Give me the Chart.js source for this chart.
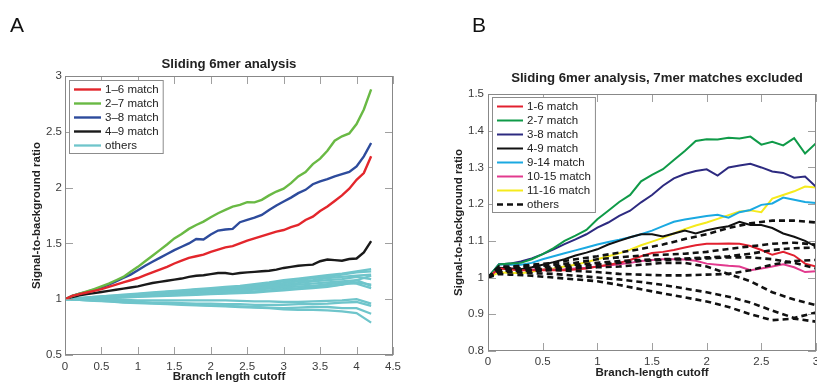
<!DOCTYPE html>
<html>
<head>
<meta charset="utf-8">
<script src="https://cdn.jsdelivr.net/npm/chart.js@4.4.1/dist/chart.umd.min.js"></script>
<style>
  body { margin: 0; background: #fff; width: 817px; height: 383px; overflow: hidden; position: relative; }
  .panel { position: absolute; top: 0; height: 383px; }
  #wrapA { left: 0; width: 410px; }
  #wrapB { left: 410px; width: 407px; }
</style>
</head>
<body>
<div class="panel" id="wrapA"><canvas id="chartA"></canvas></div>
<div class="panel" id="wrapB"><canvas id="chartB"></canvas></div>
<script>
// ---- Panel A data: Sliding 6mer analysis ----
const xA = [0,0.1,0.2,0.3,0.4,0.5,0.6,0.7,0.8,0.9,1,1.1,1.2,1.3,1.4,1.5,1.6,1.7,1.8,1.9,2,2.1,2.2,2.3,2.4,2.5,2.6,2.7,2.8,2.9,3,3.1,3.2,3.3,3.4,3.5,3.6,3.7,3.8,3.9,4,4.1,4.2];
const redA   = [1.00,1.03,1.045,1.06,1.075,1.09,1.11,1.13,1.15,1.17,1.19,1.215,1.24,1.265,1.29,1.32,1.345,1.37,1.385,1.40,1.425,1.445,1.465,1.475,1.50,1.525,1.545,1.565,1.585,1.605,1.62,1.645,1.665,1.71,1.74,1.79,1.83,1.88,1.93,1.99,2.07,2.13,2.28];
const greenA = [1.00,1.03,1.05,1.07,1.09,1.115,1.14,1.17,1.20,1.245,1.29,1.34,1.39,1.44,1.49,1.545,1.585,1.63,1.665,1.695,1.735,1.77,1.80,1.83,1.845,1.87,1.868,1.89,1.93,1.965,1.99,2.04,2.10,2.14,2.21,2.26,2.33,2.42,2.46,2.485,2.57,2.70,2.88];
const blueA  = [1.00,1.03,1.05,1.065,1.085,1.105,1.13,1.16,1.19,1.22,1.26,1.30,1.335,1.37,1.405,1.44,1.47,1.50,1.54,1.535,1.58,1.615,1.625,1.63,1.69,1.71,1.73,1.755,1.80,1.84,1.875,1.91,1.95,1.98,2.03,2.055,2.075,2.10,2.12,2.14,2.19,2.28,2.40];
const blackA = [1.00,1.02,1.035,1.045,1.055,1.065,1.075,1.085,1.095,1.105,1.115,1.13,1.145,1.155,1.165,1.175,1.185,1.20,1.21,1.215,1.225,1.235,1.235,1.225,1.235,1.24,1.245,1.25,1.255,1.265,1.28,1.29,1.30,1.305,1.31,1.34,1.355,1.35,1.345,1.36,1.365,1.42,1.52];
// "others" are sampled more coarsely
const xA2 = [0,0.2,0.4,0.6,0.8,1,1.2,1.4,1.6,1.8,2,2.2,2.4,2.6,2.8,3,3.2,3.4,3.6,3.8,4,4.2];
const othersA = [
  [1.00,1.01,1.02,1.03,1.04,1.05,1.06,1.07,1.08,1.09,1.10,1.11,1.12,1.135,1.15,1.17,1.185,1.20,1.215,1.23,1.25,1.27],
  [1.00,1.01,1.02,1.03,1.035,1.045,1.055,1.065,1.075,1.085,1.09,1.10,1.11,1.125,1.14,1.16,1.17,1.19,1.20,1.22,1.24,1.25],
  [1.00,1.01,1.015,1.025,1.035,1.04,1.05,1.06,1.07,1.075,1.085,1.09,1.10,1.115,1.13,1.145,1.16,1.17,1.19,1.20,1.21,1.22],
  [1.00,1.005,1.015,1.02,1.03,1.035,1.045,1.05,1.06,1.07,1.075,1.085,1.095,1.105,1.12,1.13,1.145,1.16,1.17,1.18,1.20,1.18],
  [1.00,1.005,1.01,1.02,1.025,1.03,1.04,1.045,1.05,1.06,1.065,1.075,1.085,1.095,1.105,1.12,1.13,1.14,1.15,1.16,1.17,1.12],
  [1.00,1.005,1.01,1.015,1.02,1.03,1.035,1.04,1.045,1.05,1.06,1.065,1.075,1.085,1.095,1.105,1.115,1.12,1.135,1.145,1.14,1.10],
  [1.00,1.005,1.01,1.015,1.02,1.025,1.03,1.035,1.04,1.045,1.05,1.055,1.065,1.07,1.08,1.09,1.10,1.11,1.12,1.13,1.15,1.13],
  [1.00,1.00,1.005,1.01,1.015,1.02,1.025,1.03,1.035,1.04,1.045,1.05,1.055,1.06,1.07,1.08,1.09,1.10,1.11,1.13,1.17,1.21],
  [1.00,0.998,0.995,0.995,0.993,0.99,0.99,0.99,0.99,0.99,0.99,0.99,0.985,0.98,0.98,0.975,0.975,0.98,0.985,0.99,1.00,0.96],
  [1.00,0.995,0.99,0.985,0.98,0.975,0.97,0.97,0.965,0.96,0.96,0.955,0.955,0.95,0.95,0.95,0.955,0.955,0.96,0.97,0.975,0.94],
  [1.00,0.995,0.99,0.98,0.975,0.97,0.965,0.96,0.955,0.95,0.945,0.94,0.935,0.93,0.925,0.92,0.925,0.93,0.93,0.92,0.92,0.87],
  [1.00,0.995,0.985,0.98,0.97,0.965,0.96,0.955,0.95,0.945,0.94,0.935,0.93,0.925,0.92,0.91,0.905,0.905,0.90,0.89,0.875,0.79]
];
const labelsA = ['1\u20136 match', '2\u20137 match', '3\u20138 match', '4\u20139 match', 'others'];
const xTicksA = [0, 0.5, 1, 1.5, 2, 2.5, 3, 3.5, 4, 4.5];
const xTickLabelsA = ['0', '0.5', '1', '1.5', '2', '2.5', '3', '3.5', '4', '4.5'];
const yTicksA = [0.5, 1, 1.5, 2, 2.5, 3];
const yTickLabelsA = ['0.5', '1', '1.5', '2', '2.5', '3'];

// ---- Panel B data: 7mer matches excluded ----
const xB = [0,0.1,0.2,0.3,0.4,0.5,0.6,0.7,0.8,0.9,1,1.1,1.2,1.3,1.4,1.5,1.6,1.7,1.8,1.9,2,2.1,2.2,2.3,2.4,2.5,2.6,2.7,2.8,2.9,3];
const redB     = [1.00,1.025,1.022,1.02,1.02,1.02,1.02,1.02,1.022,1.025,1.03,1.035,1.04,1.048,1.058,1.067,1.07,1.075,1.082,1.088,1.092,1.092,1.093,1.092,1.086,1.075,1.062,1.07,1.06,1.038,1.03];
const greenB   = [1.00,1.036,1.038,1.04,1.05,1.064,1.08,1.10,1.114,1.13,1.159,1.182,1.206,1.225,1.262,1.28,1.295,1.32,1.345,1.372,1.377,1.376,1.381,1.379,1.384,1.362,1.37,1.36,1.38,1.338,1.366];
const navyB    = [1.00,1.036,1.038,1.044,1.052,1.064,1.077,1.091,1.104,1.118,1.136,1.15,1.168,1.182,1.205,1.225,1.25,1.27,1.282,1.29,1.295,1.278,1.30,1.305,1.31,1.30,1.289,1.285,1.272,1.275,1.247];
const blackB   = [1.00,1.027,1.025,1.023,1.028,1.035,1.042,1.05,1.06,1.068,1.077,1.09,1.10,1.11,1.118,1.118,1.112,1.12,1.128,1.12,1.129,1.135,1.14,1.152,1.143,1.143,1.135,1.12,1.111,1.10,1.084];
const cyanB    = [1.00,1.036,1.035,1.035,1.04,1.05,1.058,1.066,1.074,1.082,1.09,1.097,1.103,1.11,1.118,1.128,1.14,1.152,1.158,1.163,1.168,1.171,1.163,1.178,1.184,1.198,1.202,1.218,1.212,1.206,1.203];
const magentaB = [1.00,1.025,1.025,1.023,1.022,1.022,1.022,1.023,1.025,1.027,1.03,1.033,1.036,1.04,1.045,1.048,1.05,1.05,1.049,1.046,1.038,1.035,1.032,1.03,1.02,1.025,1.03,1.036,1.028,1.015,1.017];
const yellowB  = [1.00,1.014,1.013,1.012,1.016,1.022,1.025,1.03,1.035,1.042,1.05,1.058,1.066,1.076,1.088,1.098,1.108,1.12,1.132,1.142,1.15,1.16,1.17,1.18,1.183,1.178,1.215,1.225,1.235,1.248,1.245];
const xB2 = [0,0.1,0.2,0.4,0.6,0.8,1,1.2,1.4,1.6,1.8,2,2.2,2.4,2.6,2.8,3];
const othersB = [
  [1.00,1.03,1.03,1.035,1.04,1.05,1.058,1.068,1.078,1.09,1.105,1.118,1.135,1.148,1.155,1.155,1.15],
  [1.00,1.03,1.028,1.03,1.035,1.04,1.05,1.055,1.06,1.062,1.065,1.07,1.078,1.085,1.092,1.095,1.09],
  [1.00,1.025,1.025,1.025,1.03,1.035,1.04,1.045,1.048,1.05,1.052,1.055,1.058,1.065,1.075,1.08,1.082],
  [1.00,1.02,1.02,1.022,1.025,1.03,1.035,1.04,1.045,1.048,1.05,1.052,1.055,1.055,1.05,1.04,1.025],
  [1.00,1.02,1.018,1.018,1.02,1.018,1.015,1.01,1.008,1.006,1.006,1.008,1.01,1.02,1.035,1.045,1.048],
  [1.00,1.015,1.015,1.012,1.01,1.005,1.0,0.995,0.988,0.98,0.97,0.96,0.948,0.932,0.91,0.89,0.905],
  [1.00,1.01,1.008,1.005,1.0,0.995,0.99,0.98,0.968,0.957,0.946,0.935,0.92,0.9,0.884,0.888,0.88],
  [1.00,1.02,1.02,1.02,1.022,1.025,1.028,1.03,1.035,1.04,1.04,1.03,1.01,0.99,0.96,0.94,0.925]
];
const labelsB = ['1-6 match', '2-7 match', '3-8 match', '4-9 match', '9-14 match', '10-15 match', '11-16 match', 'others'];
const xTicksB = [0, 0.5, 1, 1.5, 2, 2.5, 3];
const xTickLabelsB = ['0', '0.5', '1', '1.5', '2', '2.5', '3'];
const yTicksB = [0.8, 0.9, 1, 1.1, 1.2, 1.3, 1.4, 1.5];
const yTickLabelsB = ['0.8', '0.9', '1', '1.1', '1.2', '1.3', '1.4', '1.5'];

const FONT = '"Liberation Sans", Arial, Helvetica, sans-serif';
Chart.defaults.font.family = FONT;

function pts(xs, ys) {
  return xs.map((x, i) => ({ x: x, y: ys[i] }));
}

function solid(label, xs, ys, color, width) {
  return { label: label, data: pts(xs, ys), borderColor: color, borderWidth: width,
           pointRadius: 0, tension: 0, order: 1 };
}

// MATLAB-like frame, inward ticks and boxed legend
const matlabAxes = {
  id: 'matlabAxes',
  afterDatasetsDraw(chart, args, opts) {
    const { ctx, chartArea: a, scales: { x, y } } = chart;
    ctx.save();
    ctx.strokeStyle = '#a0a0a0';
    ctx.lineWidth = 1;
    ctx.beginPath();
    x.ticks.forEach(t => {
      const px = Math.round(x.getPixelForValue(t.value)) + 0.5;
      ctx.moveTo(px, a.bottom); ctx.lineTo(px, a.bottom - 8);
      ctx.moveTo(px, a.top); ctx.lineTo(px, a.top + 8);
    });
    y.ticks.forEach(t => {
      const py = Math.round(y.getPixelForValue(t.value)) + 0.5;
      ctx.moveTo(a.left, py); ctx.lineTo(a.left + 8, py);
      ctx.moveTo(a.right, py); ctx.lineTo(a.right - 8, py);
    });
    ctx.stroke();
    ctx.strokeStyle = '#888';
    ctx.strokeRect(a.left + 0.5, a.top + 0.5, a.width - 1, a.height - 1);

    // legend
    const items = chart.data.datasets.filter(d => !d.hideInLegend);
    ctx.font = '11.5px ' + FONT;
    const textW = Math.max(...items.map(d => ctx.measureText(d.label).width));
    const bx = a.left + opts.legendDx, by = a.top + opts.legendDy;
    const bw = 5 + opts.sampleLen + 4 + textW + 4;
    const bh = 14 * items.length + 3;
    ctx.fillStyle = '#fff';
    ctx.fillRect(bx + 0.5, by + 0.5, bw, bh);
    ctx.strokeStyle = '#8c8c8c';
    ctx.strokeRect(bx + 0.5, by + 0.5, bw, bh);
    items.forEach((d, i) => {
      const cy = by + 9.5 + 14 * i;
      ctx.strokeStyle = d.borderColor;
      ctx.lineWidth = d.borderWidth;
      ctx.setLineDash(d.borderDash || []);
      ctx.beginPath();
      ctx.moveTo(bx + 5, cy);
      ctx.lineTo(bx + 5 + opts.sampleLen, cy);
      ctx.stroke();
      ctx.setLineDash([]);
      ctx.fillStyle = '#222';
      ctx.textBaseline = 'middle';
      ctx.textAlign = 'left';
      ctx.fillText(d.label, bx + 9 + opts.sampleLen, cy + 0.5);
    });
    ctx.restore();
  },
  afterDraw(chart, args, opts) {
    const { ctx, chartArea: a } = chart;
    ctx.save();
    ctx.fillStyle = '#111';
    ctx.textBaseline = 'alphabetic';
    ctx.textAlign = 'left';
    ctx.font = '21px ' + FONT;
    ctx.fillText(opts.letter, opts.letterX, 32);
    ctx.textAlign = 'center';
    ctx.font = 'bold 13.2px ' + FONT;
    ctx.fillStyle = '#222';
    ctx.fillText(opts.title, (a.left + a.right) / 2 + opts.titleDx, opts.titleY);
    ctx.restore();
  }
};

function makeOptions(c) {
  const noPad = s => { s.paddingLeft = 0; s.paddingRight = 0; s.paddingTop = 0; s.paddingBottom = 0; };
  return {
    responsive: true,
    maintainAspectRatio: false,
    animation: false,
    devicePixelRatio: 1,
    layout: { padding: c.padding },
    plugins: {
      legend: { display: false },
      tooltip: { enabled: false },
      matlabAxes: c.panel
    },
    scales: {
      x: {
        type: 'linear', min: c.xTicks[0], max: c.xTicks[c.xTicks.length - 1],
        afterBuildTicks: s => { s.ticks = c.xTicks.map(v => ({ value: v })); },
        afterFit: s => { s.height = c.xAxisH; noPad(s); },
        grid: { display: false, drawTicks: false },
        border: { display: false },
        ticks: { autoSkip: false, maxRotation: 0, padding: c.xTickPad, color: '#3c3c3c',
                 font: { size: 11.5 }, callback: (v, i) => c.xLabels[i] },
        title: { display: true, text: c.xTitle, color: '#222',
                 font: { size: 11.5, weight: 'bold' }, padding: { top: 0, bottom: c.xTitlePad } }
      },
      y: {
        type: 'linear', min: c.yTicks[0], max: c.yTicks[c.yTicks.length - 1],
        afterBuildTicks: s => { s.ticks = c.yTicks.map(v => ({ value: v })); },
        afterFit: s => { s.width = c.yAxisW; noPad(s); },
        grid: { display: false, drawTicks: false },
        border: { display: false },
        ticks: { autoSkip: false, padding: c.yTickPad, color: '#3c3c3c',
                 font: { size: 11.5 }, callback: (v, i) => c.yLabels[i] },
        title: { display: true, text: 'Signal-to-background ratio', color: '#222',
                 font: { size: 11.5, weight: 'bold' }, padding: { top: c.yTitlePad, bottom: 0 } }
      }
    }
  };
}

// ---- Chart A ----
const dsA = [
  solid(labelsA[0], xA, redA, '#e3262c', 2.4),
  solid(labelsA[1], xA, greenA, '#69b944', 2.4),
  solid(labelsA[2], xA, blueA, '#2d4b9c', 2.4),
  solid(labelsA[3], xA, blackA, '#1a1a1a', 2.4)
];
othersA.forEach((ys, i) => {
  const d = solid(labelsA[4], xA2, ys, '#6fc5cb', 2.3);
  d.order = 2;
  d.hideInLegend = i > 0;
  dsA.push(d);
});

new Chart(document.getElementById('chartA'), {
  type: 'line',
  data: { datasets: dsA },
  options: makeOptions({
    padding: { top: 76, right: 17, left: 0, bottom: 0 },
    xTicks: xTicksA, xLabels: xTickLabelsA, yTicks: yTicksA, yLabels: yTickLabelsA,
    xTitle: 'Branch length cutoff', xAxisH: 28, yAxisW: 65,
    xTickPad: 5, yTickPad: 3, xTitlePad: -1, yTitlePad: 30,
    panel: { letter: 'A', letterX: 10, title: 'Sliding 6mer analysis', titleDx: 0, titleY: 68,
             legendDx: 4, legendDy: 4, sampleLen: 27 }
  }),
  plugins: [matlabAxes]
});

// ---- Chart B ----
const dsB = [
  solid(labelsB[0], xB, redB, '#e2202f', 2),
  solid(labelsB[1], xB, greenB, '#0f9a48', 2),
  solid(labelsB[2], xB, navyB, '#2d2a80', 2),
  solid(labelsB[3], xB, blackB, '#111', 2),
  solid(labelsB[4], xB, cyanB, '#1aa9e1', 2),
  solid(labelsB[5], xB, magentaB, '#e23a8e', 2),
  solid(labelsB[6], xB, yellowB, '#f5ea1c', 2)
];
othersB.forEach((ys, i) => {
  const d = solid(labelsB[7], xB2, ys, '#111', 2.6);
  d.borderDash = [6, 4];
  d.order = 0;
  d.hideInLegend = i > 0;
  dsB.push(d);
});

new Chart(document.getElementById('chartB'), {
  type: 'line',
  data: { datasets: dsB },
  options: makeOptions({
    padding: { top: 94, right: 1, left: 0, bottom: 0 },
    xTicks: xTicksB, xLabels: xTickLabelsB, yTicks: yTicksB, yLabels: yTickLabelsB,
    xTitle: 'Branch-length cutoff', xAxisH: 32, yAxisW: 78,
    xTickPad: 4, yTickPad: 4, xTitlePad: 3, yTitlePad: 42,
    panel: { letter: 'B', letterX: 62, title: 'Sliding 6mer analysis, 7mer matches excluded', titleDx: 5, titleY: 82,
             legendDx: 4, legendDy: 3, sampleLen: 26 }
  }),
  plugins: [matlabAxes]
});
</script>
</body>
</html>
